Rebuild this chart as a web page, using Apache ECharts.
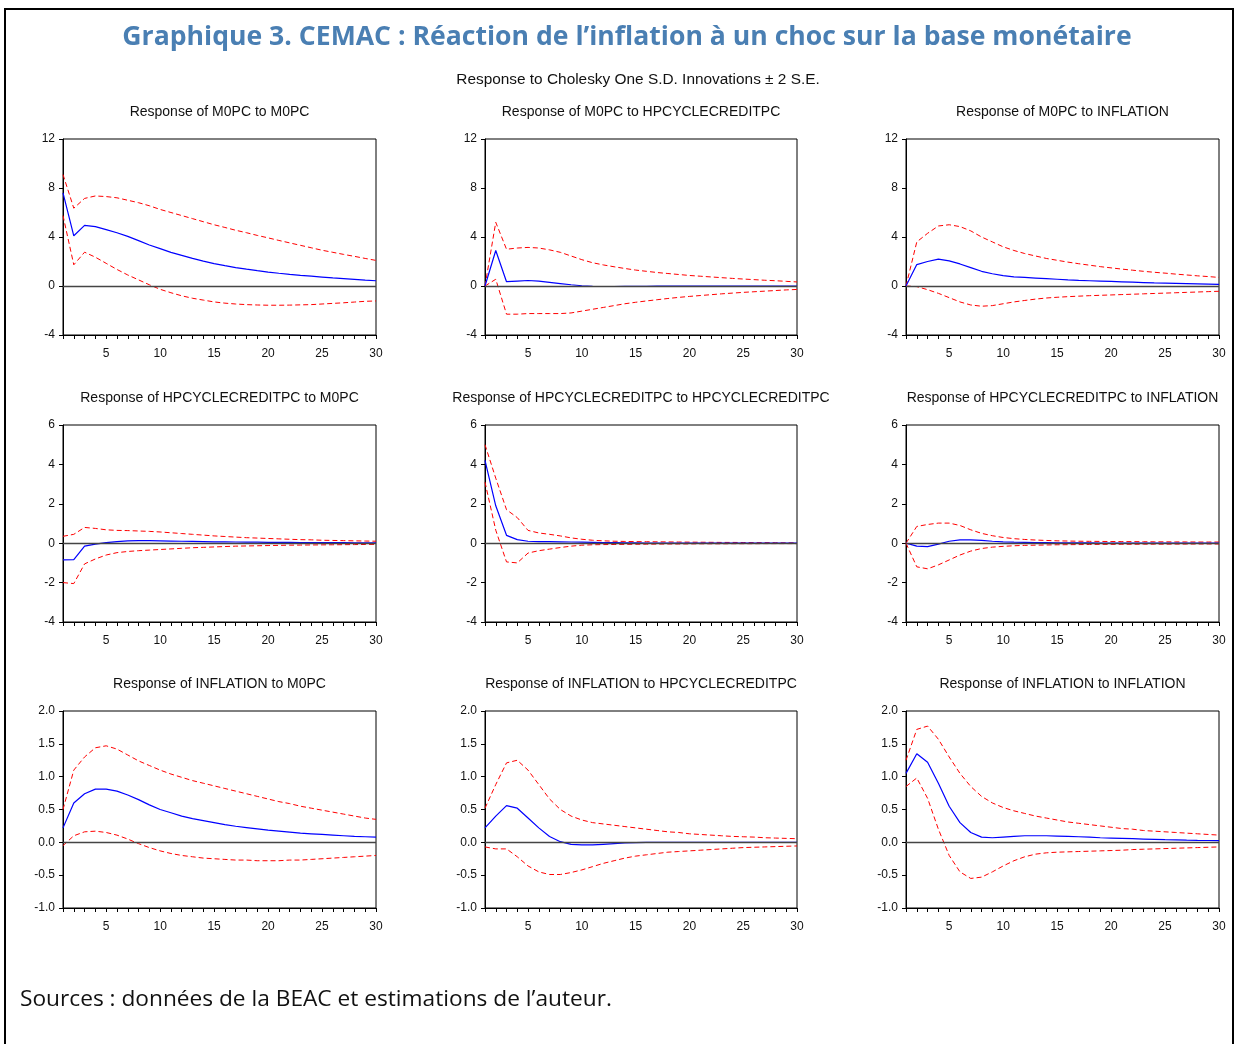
<!DOCTYPE html>
<html>
<head>
<meta charset="utf-8">
<script src="https://cdn.jsdelivr.net/npm/echarts@6/dist/echarts.min.js"></script>
<style>
html,body{margin:0;padding:0;background:#fff;}
#chart{width:1236px;height:1044px;}
</style>
</head>
<body>
<div id="chart"></div>
<script>
// ---- Data ----
const periods = Array.from({length:30},(_,i)=>String(i+1));
const xTickLabels = ["5","10","15","20","25","30"];

const mainTitle = "Graphique 3. CEMAC : Réaction de l’inflation à un choc sur la base monétaire";
const subTitle = "Response to Cholesky One S.D. Innovations ± 2 S.E.";
const sourceText = "Sources : données de la BEAC et estimations de l’auteur.";

const panelTitles = [
  "Response of M0PC to M0PC","Response of M0PC to HPCYCLECREDITPC","Response of M0PC to INFLATION",
  "Response of HPCYCLECREDITPC to M0PC","Response of HPCYCLECREDITPC to HPCYCLECREDITPC","Response of HPCYCLECREDITPC to INFLATION",
  "Response of INFLATION to M0PC","Response of INFLATION to HPCYCLECREDITPC","Response of INFLATION to INFLATION"
];

// y-axis ranges per row
const rowYMin = [-4,-4,-1];
const rowYMax = [12,6,2];
const rowYStep = [4,2,0.5];

// Row 1
const m0_m0_resp = [7.6,4.1,4.95,4.85,4.6,4.35,4.05,3.7,3.35,3.05,2.75,2.5,2.25,2.03,1.83,1.66,1.5,1.37,1.25,1.14,1.04,0.95,0.87,0.8,0.73,0.66,0.6,0.54,0.48,0.43];
const m0_m0_up   = [9.1,6.35,7.15,7.35,7.3,7.2,7.0,6.8,6.55,6.25,6.0,5.75,5.5,5.25,5.0,4.78,4.55,4.35,4.13,3.93,3.72,3.52,3.32,3.12,2.92,2.75,2.58,2.42,2.25,2.09];
const m0_m0_lo   = [5.75,1.73,2.76,2.35,1.85,1.35,0.9,0.5,0.1,-0.27,-0.55,-0.8,-1.0,-1.15,-1.3,-1.4,-1.47,-1.52,-1.55,-1.57,-1.57,-1.56,-1.54,-1.52,-1.47,-1.42,-1.37,-1.31,-1.25,-1.22];

const m0_hp_resp = [0,2.9,0.35,0.4,0.45,0.4,0.3,0.2,0.1,0.02,-0.02,-0.04,-0.04,-0.03,-0.02,-0.02,-0.01,-0.01,-0.01,-0.01,0,0,0,0,0,0,0,0,0,0];
const m0_hp_up   = [0,5.2,3.0,3.1,3.15,3.1,2.95,2.75,2.45,2.15,1.9,1.72,1.57,1.43,1.3,1.2,1.1,1.02,0.94,0.86,0.8,0.74,0.68,0.62,0.57,0.52,0.47,0.43,0.38,0.33];
const m0_hp_lo   = [0,0.55,-2.3,-2.3,-2.25,-2.25,-2.25,-2.25,-2.2,-2.05,-1.9,-1.75,-1.6,-1.45,-1.33,-1.22,-1.12,-1.02,-0.93,-0.85,-0.78,-0.71,-0.64,-0.58,-0.52,-0.47,-0.42,-0.37,-0.32,-0.28];

const m0_inf_resp = [0,1.75,2.0,2.2,2.05,1.8,1.5,1.2,1.0,0.85,0.75,0.7,0.65,0.6,0.55,0.5,0.46,0.43,0.4,0.37,0.34,0.31,0.28,0.25,0.23,0.21,0.19,0.17,0.15,0.13];
const m0_inf_up   = [0,3.6,4.3,4.9,5.0,4.85,4.5,4.0,3.6,3.2,2.9,2.65,2.45,2.25,2.1,1.95,1.82,1.7,1.58,1.48,1.38,1.29,1.2,1.12,1.05,0.97,0.9,0.83,0.77,0.7];
const m0_inf_lo   = [0,-0.05,-0.3,-0.6,-0.95,-1.3,-1.55,-1.65,-1.6,-1.45,-1.3,-1.18,-1.07,-0.98,-0.92,-0.87,-0.83,-0.79,-0.76,-0.73,-0.7,-0.67,-0.64,-0.61,-0.58,-0.55,-0.52,-0.49,-0.46,-0.43];

// Row 2
const hp_m0_resp = [-0.85,-0.83,-0.15,-0.05,0.03,0.08,0.12,0.13,0.13,0.12,0.11,0.1,0.09,0.08,0.07,0.065,0.06,0.055,0.05,0.045,0.04,0.04,0.035,0.03,0.03,0.025,0.025,0.02,0.02,0.02];
const hp_m0_up   = [0.35,0.45,0.8,0.75,0.68,0.65,0.64,0.62,0.6,0.57,0.53,0.49,0.45,0.41,0.37,0.34,0.31,0.28,0.26,0.24,0.22,0.2,0.18,0.17,0.15,0.14,0.13,0.12,0.11,0.1];
const hp_m0_lo   = [-2.0,-2.05,-1.05,-0.8,-0.6,-0.48,-0.42,-0.38,-0.35,-0.32,-0.29,-0.26,-0.23,-0.21,-0.19,-0.17,-0.15,-0.14,-0.13,-0.12,-0.11,-0.1,-0.095,-0.09,-0.085,-0.08,-0.075,-0.07,-0.065,-0.06];

const hp_hp_resp = [4.2,1.9,0.4,0.18,0.1,0.08,0.08,0.07,0.06,0.05,0.04,0.03,0.025,0.02,0.015,0.01,0.01,0.01,0.005,0.005,0,0,0,0,0,0,0,0,0,0];
const hp_hp_up   = [5.0,3.3,1.7,1.3,0.65,0.52,0.45,0.37,0.27,0.2,0.15,0.12,0.1,0.09,0.08,0.075,0.07,0.065,0.06,0.055,0.05,0.045,0.04,0.04,0.035,0.03,0.03,0.025,0.02,0.02];
const hp_hp_lo   = [3.1,0.66,-0.95,-1.0,-0.5,-0.38,-0.3,-0.22,-0.15,-0.1,-0.08,-0.07,-0.065,-0.06,-0.055,-0.05,-0.045,-0.04,-0.04,-0.035,-0.03,-0.03,-0.03,-0.025,-0.025,-0.025,-0.02,-0.02,-0.02,-0.02];

const hp_inf_resp = [0,-0.15,-0.17,-0.05,0.1,0.17,0.17,0.14,0.1,0.07,0.05,0.04,0.03,0.025,0.02,0.02,0.015,0.015,0.01,0.01,0.01,0.01,0.01,0.01,0.01,0.01,0.01,0.01,0.01,0.01];
const hp_inf_up   = [0,0.85,0.95,1.02,1.02,0.9,0.68,0.5,0.38,0.29,0.23,0.19,0.16,0.14,0.12,0.11,0.1,0.095,0.09,0.085,0.08,0.08,0.075,0.07,0.07,0.065,0.065,0.06,0.06,0.06];
const hp_inf_lo   = [0,-1.2,-1.3,-1.1,-0.85,-0.6,-0.4,-0.27,-0.2,-0.16,-0.13,-0.11,-0.1,-0.09,-0.08,-0.075,-0.07,-0.065,-0.06,-0.06,-0.055,-0.055,-0.05,-0.05,-0.05,-0.045,-0.045,-0.04,-0.04,-0.04];

// Row 3
const inf_m0_resp = [0.22,0.6,0.74,0.81,0.81,0.78,0.72,0.65,0.57,0.5,0.45,0.4,0.36,0.33,0.3,0.27,0.245,0.225,0.205,0.185,0.17,0.155,0.14,0.13,0.12,0.11,0.1,0.09,0.085,0.08];
const inf_m0_up   = [0.5,1.1,1.3,1.44,1.47,1.42,1.33,1.24,1.17,1.1,1.04,0.99,0.94,0.9,0.86,0.82,0.78,0.74,0.7,0.66,0.62,0.59,0.55,0.52,0.49,0.46,0.43,0.4,0.37,0.35];
const inf_m0_lo   = [-0.05,0.1,0.16,0.17,0.15,0.11,0.05,-0.02,-0.08,-0.13,-0.17,-0.2,-0.22,-0.24,-0.25,-0.26,-0.27,-0.27,-0.28,-0.28,-0.28,-0.27,-0.27,-0.26,-0.25,-0.24,-0.23,-0.22,-0.21,-0.2];

const inf_hp_resp = [0.22,0.4,0.56,0.52,0.37,0.22,0.09,0.01,-0.03,-0.04,-0.04,-0.03,-0.02,-0.01,-0.005,0,0,0,0,0,0,0,0,0,0,0,0,0,0,0];
const inf_hp_up   = [0.52,0.88,1.21,1.25,1.1,0.88,0.66,0.5,0.4,0.34,0.3,0.28,0.26,0.24,0.22,0.2,0.18,0.16,0.15,0.13,0.12,0.11,0.1,0.09,0.085,0.08,0.07,0.065,0.06,0.055];
const inf_hp_lo   = [-0.07,-0.1,-0.1,-0.22,-0.36,-0.45,-0.49,-0.49,-0.46,-0.42,-0.37,-0.32,-0.28,-0.24,-0.21,-0.19,-0.17,-0.15,-0.14,-0.13,-0.12,-0.11,-0.1,-0.09,-0.08,-0.075,-0.07,-0.065,-0.06,-0.055];

const inf_inf_resp = [1.05,1.35,1.22,0.9,0.55,0.3,0.15,0.08,0.07,0.08,0.09,0.1,0.1,0.1,0.095,0.09,0.085,0.08,0.07,0.065,0.06,0.055,0.05,0.045,0.04,0.037,0.033,0.03,0.028,0.025];
const inf_inf_up   = [1.25,1.72,1.77,1.57,1.3,1.05,0.85,0.7,0.6,0.53,0.48,0.44,0.4,0.37,0.34,0.31,0.29,0.27,0.25,0.23,0.21,0.2,0.18,0.17,0.16,0.15,0.14,0.13,0.12,0.11];
const inf_inf_lo   = [0.85,0.98,0.67,0.2,-0.2,-0.45,-0.55,-0.53,-0.45,-0.36,-0.28,-0.22,-0.18,-0.16,-0.15,-0.145,-0.14,-0.135,-0.13,-0.125,-0.12,-0.11,-0.105,-0.1,-0.095,-0.09,-0.085,-0.08,-0.075,-0.07];

const panelData = [
  [m0_m0_resp,m0_m0_up,m0_m0_lo],[m0_hp_resp,m0_hp_up,m0_hp_lo],[m0_inf_resp,m0_inf_up,m0_inf_lo],
  [hp_m0_resp,hp_m0_up,hp_m0_lo],[hp_hp_resp,hp_hp_up,hp_hp_lo],[hp_inf_resp,hp_inf_up,hp_inf_lo],
  [inf_m0_resp,inf_m0_up,inf_m0_lo],[inf_hp_resp,inf_hp_up,inf_hp_lo],[inf_inf_resp,inf_inf_up,inf_inf_lo]
];

// ---- Layout ----
const colLeft = [63,485,906];
const colWidth = [313,312,313];
const rowTop = [139,425,711];
const rowHeight = [196,197,197];

const grids=[], xAxes=[], yAxes=[], series=[], titles=[];
for(let i=0;i<9;i++){
  const r=Math.floor(i/3), c=i%3;
  grids.push({left:colLeft[c],top:rowTop[r],width:colWidth[c],height:rowHeight[r],
    show:true,borderColor:'#000',borderWidth:1,backgroundColor:'transparent'});
  xAxes.push({type:'category',gridIndex:i,data:periods,boundaryGap:false,position:'bottom',
    axisLine:{show:true,onZero:false,lineStyle:{color:'#000',width:1}},
    axisTick:{show:true,interval:0,length:4,lineStyle:{color:'#000'}},
    axisLabel:{interval:0,formatter:(v)=>xTickLabels.indexOf(v)>=0?v:'',
      color:'#111',fontSize:12,fontFamily:'Liberation Sans',margin:13},
    splitLine:{show:false}});
  yAxes.push({type:'value',gridIndex:i,min:rowYMin[r],max:rowYMax[r],interval:rowYStep[r],
    axisLine:{show:true,onZero:false,lineStyle:{color:'#000',width:1}},
    axisTick:{show:true,length:4,lineStyle:{color:'#000'}},
    axisLabel:{color:'#111',fontSize:12,fontFamily:'Liberation Sans',margin:8,
      formatter:(v)=> r===2 ? v.toFixed(1) : String(v)},
    splitLine:{show:false}});
  const [resp,up,lo]=panelData[i];
  series.push({type:'line',xAxisIndex:i,yAxisIndex:i,data:up,symbol:'none',silent:true,
    lineStyle:{color:'#ff0000',width:1,type:[5,3]},z:3});
  series.push({type:'line',xAxisIndex:i,yAxisIndex:i,data:lo,symbol:'none',silent:true,
    lineStyle:{color:'#ff0000',width:1,type:[5,3]},z:3});
  series.push({type:'line',xAxisIndex:i,yAxisIndex:i,data:resp,symbol:'none',silent:true,
    lineStyle:{color:'#0000ff',width:1.2},z:4,
    markLine:{silent:true,symbol:'none',label:{show:false},
      lineStyle:{color:'#444',width:1.3,type:'solid'},data:[{yAxis:0}]}});
  titles.push({text:panelTitles[i],left:colLeft[c]+colWidth[c]/2,top:rowTop[r]-34,textAlign:'center',padding:0,
    textStyle:{fontSize:14,fontWeight:'normal',color:'#111',fontFamily:'Liberation Sans'}});
}
titles.push({text:mainTitle,left:627,top:24,textAlign:'center',padding:0,
  textStyle:{fontSize:26.6,fontWeight:'bold',color:'#4a7fb3',fontFamily:'Open Sans'}});
titles.push({text:subTitle,left:638,top:72,textAlign:'center',padding:0,
  textStyle:{fontSize:15.4,fontWeight:'normal',color:'#111',fontFamily:'Liberation Sans'}});
titles.push({text:sourceText,left:20,top:988,padding:0,
  textStyle:{fontSize:22.7,fontWeight:'normal',color:'#111',fontFamily:'Open Sans'}});

const chart=echarts.init(document.getElementById('chart'),null,{renderer:'canvas'});
chart.setOption({
  backgroundColor:'#fff',
  animation:false,
  title:titles,
  grid:grids,xAxis:xAxes,yAxis:yAxes,series:series,
  graphic:[{type:'polyline',silent:true,shape:{points:[[5,1044],[5,9],[1233,9],[1233,1044]]},
    style:{stroke:'#000',lineWidth:2,fill:null}}]
});
</script>
</body>
</html>
